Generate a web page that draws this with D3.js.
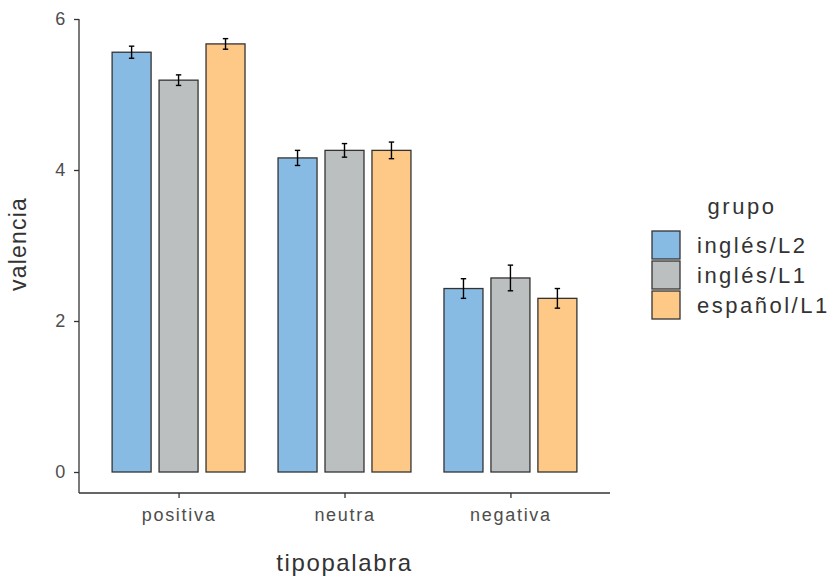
<!DOCTYPE html>
<html>
<head>
<meta charset="utf-8">
<script src="https://cdn.jsdelivr.net/npm/d3@7"></script>
<style>
  body { margin: 0; background: #fff; }
  text { font-family: "Liberation Sans", Arial, sans-serif; }
</style>
</head>
<body>
<div id="chart"></div>
<script>
// data
const categories = ['positiva', 'neutra', 'negativa'];
const groups = ['inglés/L2', 'inglés/L1', 'español/L1'];
const colors = ['#88bbe4', '#bcbfc0', '#fec886'];
const means = [
  [5.56, 5.19, 5.67],
  [4.16, 4.26, 4.26],
  [2.43, 2.57, 2.30],
];
const errors = [
  [0.08, 0.07, 0.07],
  [0.10, 0.09, 0.11],
  [0.13, 0.17, 0.13],
];
const yTicks = [0, 2, 4, 6];

const width = 829;
const height = 576;
const margin = { top: 19, left: 79, right: 219, bottom: 83 };

const svg = d3.select('#chart')
  .append('svg')
  .attr('width', width)
  .attr('height', height);

const x = d3.scaleLinear()
  .domain([0.4, categories.length + 0.6])
  .range([margin.left, width - margin.right]);

const y = d3.scaleLinear()
  .domain([0, 6])
  .range([472, margin.top]);

const dodge = 0.283;
const barW = 0.235;

const rows = [];
categories.forEach((c, i) => {
  groups.forEach((g, j) => {
    rows.push({
      cat: c, grp: g, i, j, value: means[i][j], err: errors[i][j],
    });
  });
});

const cx = (d) => x(d.i + 1 + (d.j - 1) * dodge);
const halfW = (x(1 + barW / 2) - x(1));

// bars
svg.selectAll('.bar')
  .data(rows)
  .enter()
  .append('rect')
  .attr('class', 'bar')
  .attr('x', (d) => cx(d) - halfW)
  .attr('width', halfW * 2)
  .attr('y', (d) => y(d.value))
  .attr('height', (d) => y(0) - y(d.value))
  .attr('fill', (d) => colors[d.j])
  .attr('stroke', '#333333')
  .attr('stroke-width', 1.3);

// error bars
const eb = svg.selectAll('.err')
  .data(rows)
  .enter()
  .append('g')
  .attr('class', 'err')
  .attr('stroke', '#000')
  .attr('stroke-width', 1.4);

eb.append('line')
  .attr('x1', cx).attr('x2', cx)
  .attr('y1', (d) => y(d.value + d.err))
  .attr('y2', (d) => y(d.value - d.err));
eb.append('line')
  .attr('x1', (d) => cx(d) - 2.7).attr('x2', (d) => cx(d) + 2.7)
  .attr('y1', (d) => y(d.value + d.err))
  .attr('y2', (d) => y(d.value + d.err));
eb.append('line')
  .attr('x1', (d) => cx(d) - 2.7).attr('x2', (d) => cx(d) + 2.7)
  .attr('y1', (d) => y(d.value - d.err))
  .attr('y2', (d) => y(d.value - d.err));

// y axis
const yAxis = svg.append('g')
  .attr('transform', `translate(${margin.left},0)`)
  .call(d3.axisLeft(y).tickValues(yTicks).tickFormat(d3.format('d'))
    .tickSize(5).tickPadding(7));
yAxis.select('.domain')
  .attr('d', `M0,${margin.top}V493`)
  .attr('stroke', '#333333')
  .attr('stroke-width', 1.3);

// x axis
const xAxis = svg.append('g')
  .attr('transform', 'translate(0,493)')
  .call(d3.axisBottom(x)
    .tickValues(categories.map((c, i) => i + 1))
    .tickFormat((v) => categories[v - 1])
    .tickSize(5).tickPadding(10));
xAxis.select('.domain')
  .attr('d', `M${margin.left},0H${width - margin.right}`)
  .attr('stroke', '#333333')
  .attr('stroke-width', 1.3);

[yAxis, xAxis].forEach((a) => {
  a.attr('font-size', null).attr('font-family', null);
  a.selectAll('.tick line').attr('stroke', '#333333').attr('stroke-width', 1.3);
  a.selectAll('.tick text')
    .attr('fill', '#4d4d4d')
    .style('font-size', '18px')
    .style('letter-spacing', '1.7px');
});

// axis titles
svg.append('text')
  .attr('x', x(2))
  .attr('y', 571)
  .attr('text-anchor', 'middle')
  .attr('fill', '#333')
  .style('font-size', '24px')
  .style('letter-spacing', '1.6px')
  .text('tipopalabra');

svg.append('text')
  .attr('transform', 'translate(26,244) rotate(-90)')
  .attr('text-anchor', 'middle')
  .attr('fill', '#333')
  .style('font-size', '23px')
  .style('letter-spacing', '1.2px')
  .text('valencia');

// legend
const legend = svg.append('g')
  .attr('transform', 'translate(652,231)');

legend.append('text')
  .attr('x', 90)
  .attr('y', -17)
  .attr('text-anchor', 'middle')
  .attr('fill', '#333')
  .style('font-size', '22px')
  .style('letter-spacing', '2.5px')
  .text('grupo');

const item = legend.selectAll('.item')
  .data(groups)
  .enter()
  .append('g')
  .attr('class', 'item')
  .attr('transform', (d, k) => `translate(0,${k * 30})`);

item.append('rect')
  .attr('width', 28)
  .attr('height', 28)
  .attr('fill', (d, k) => colors[k])
  .attr('stroke', '#333333')
  .attr('stroke-width', 1.3);

item.append('text')
  .attr('x', 45)
  .attr('y', 22)
  .attr('fill', '#333')
  .style('font-size', '22px')
  .style('letter-spacing', '2.5px')
  .text((d) => d);
</script>
</body>
</html>
